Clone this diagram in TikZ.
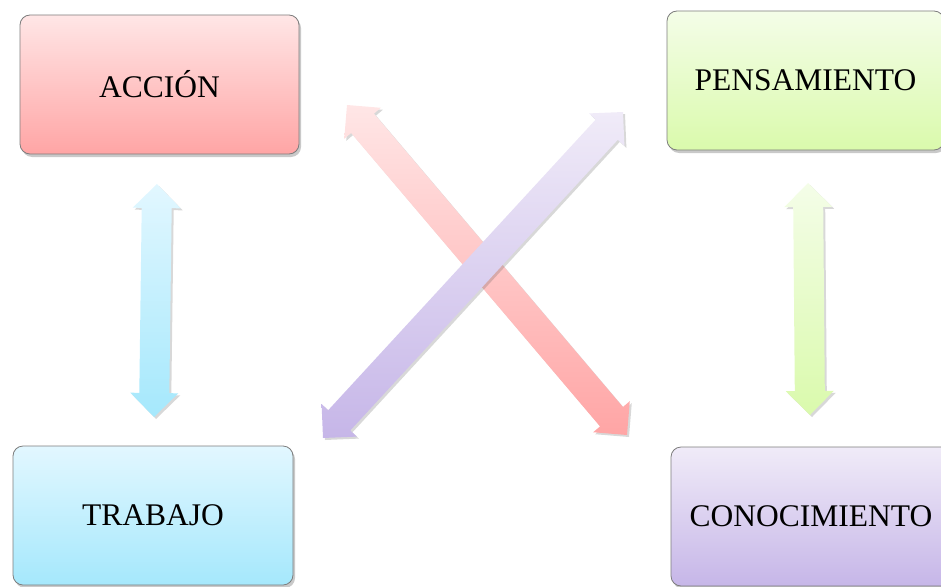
\documentclass[tikz,border=0pt]{standalone}
\usepackage{fontspec}
\setmainfont{Liberation Serif}
\usetikzlibrary{calc,shadows}
\definecolor{redT}{RGB}{255,230,230}
\definecolor{redB}{RGB}{255,165,165}
\definecolor{grnT}{RGB}{244,253,232}
\definecolor{grnB}{RGB}{218,250,172}
\definecolor{bluT}{RGB}{226,247,255}
\definecolor{bluB}{RGB}{165,232,252}
\definecolor{purT}{RGB}{240,235,248}
\definecolor{purB}{RGB}{198,182,232}
\definecolor{edge}{RGB}{125,125,125}
\newcommand\blockarrow[4]{%
  \coordinate (ba1) at ($(#1)!24pt!(#2)$);
  \coordinate (ba2) at ($(#2)!24pt!(#1)$);
  \shade[arrowbody, top color=#3, bottom color=#4]
    (#1) -- ($(ba1)!24pt!90:(#2)$) -- ($(ba1)!15pt!90:(#2)$)
    -- ($(ba2)!15pt!-90:(#1)$) -- ($(ba2)!24pt!-90:(#1)$) -- (#2)
    -- ($(ba2)!24pt!90:(#1)$) -- ($(ba2)!15pt!90:(#1)$)
    -- ($(ba1)!15pt!-90:(#2)$) -- ($(ba1)!24pt!-90:(#2)$) -- cycle;
}
\begin{document}
\begin{tikzpicture}[x=1pt,y=-1pt,
  box/.style={rounded corners=10pt, draw=edge, line width=0.8pt,
    minimum width=#1, minimum height=139pt, inner sep=0pt,
    font=\fontsize{31.5}{36}\selectfont,
    drop shadow={opacity=0.3, shadow xshift=2pt, shadow yshift=-3pt, fill=black!70}},
  arrowbody/.style={drop shadow={opacity=0.22, shadow xshift=2pt, shadow yshift=-2pt, fill=black!70}}]
\useasboundingbox (0,0) rectangle (941,586);
\clip (0,0) rectangle (941,586);
\node[box=279pt, top color=redT, bottom color=redB] (acc) at (159.5,84.5) {ACCIÓN};
\node[box=277pt, top color=grnT, bottom color=grnB] (pen) at (805.5,80.5) {PENSAMIENTO};
\node[box=280pt, top color=bluT, bottom color=bluB] (tra) at (153,515.5) {TRABAJO};
\node[box=280pt, top color=purT, bottom color=purB] (con) at (811,516.5) {CONOCIMIENTO};
\coordinate (bt) at (157,184);
\coordinate (bb) at (154,417);
\coordinate (gt) at (808,183);
\coordinate (gb) at (810,415);
\coordinate (rt) at (347,105);
\coordinate (rb) at (627,435);
\coordinate (pt) at (623,112);
\coordinate (pb) at (323,438);
\blockarrow{bt}{bb}{bluT}{bluB}
\blockarrow{gt}{gb}{grnT}{grnB}
\blockarrow{rt}{rb}{redT}{redB}
\blockarrow{pt}{pb}{purT}{purB}
\end{tikzpicture}
\end{document}
